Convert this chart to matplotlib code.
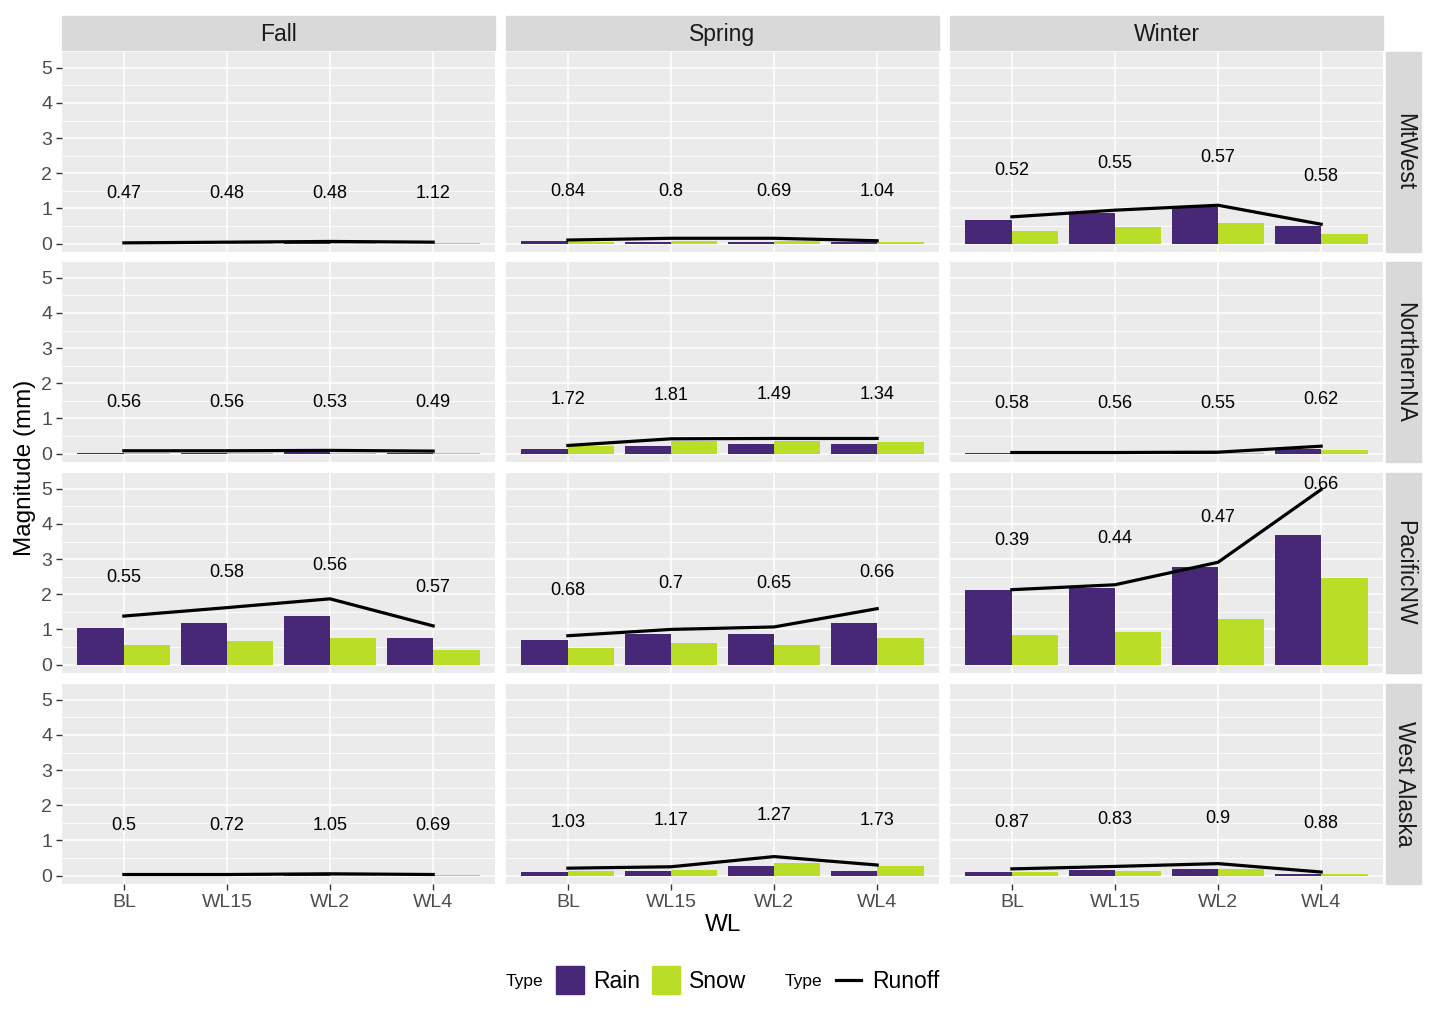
import matplotlib.pyplot as plt
from matplotlib.patches import Rectangle
from matplotlib.lines import Line2D
import numpy as np

plt.rcParams['font.family'] = ['Liberation Sans', 'DejaVu Sans']

# data
seasons = ['Fall', 'Spring', 'Winter']
regions = ['MtWest', 'NorthernNA', 'PacificNW', 'West Alaska']
wl = ['BL', 'WL15', 'WL2', 'WL4']

# rows = regions, cols = WL
rain_fall = [[0.00, 0.00, 0.01, 0.00],
             [0.02, 0.02, 0.04, 0.03],
             [1.05, 1.19, 1.39, 0.76],
             [0.00, 0.01, 0.01, 0.00]]
snow_fall = [[0.01, 0.02, 0.03, 0.03],
             [0.02, 0.02, 0.03, 0.01],
             [0.56, 0.68, 0.76, 0.42],
             [0.01, 0.01, 0.02, 0.01]]
runoff_fall = [[0.02, 0.04, 0.06, 0.04],
               [0.08, 0.08, 0.09, 0.07],
               [1.38, 1.62, 1.87, 1.10],
               [0.03, 0.03, 0.05, 0.03]]

rain_spring = [[0.06, 0.05, 0.05, 0.05],
               [0.13, 0.22, 0.26, 0.26],
               [0.70, 0.88, 0.88, 1.19],
               [0.10, 0.14, 0.28, 0.14]]
snow_spring = [[0.05, 0.08, 0.08, 0.05],
               [0.22, 0.35, 0.36, 0.33],
               [0.48, 0.60, 0.56, 0.76],
               [0.13, 0.16, 0.37, 0.26]]
runoff_spring = [[0.10, 0.15, 0.15, 0.08],
                 [0.23, 0.42, 0.43, 0.43],
                 [0.82, 1.00, 1.07, 1.59],
                 [0.21, 0.25, 0.54, 0.30]]

rain_winter = [[0.66, 0.87, 1.04, 0.50],
               [0.01, 0.00, 0.01, 0.13],
               [2.11, 2.17, 2.77, 3.70],
               [0.10, 0.16, 0.20, 0.05]]
snow_winter = [[0.35, 0.46, 0.59, 0.27],
               [0.00, 0.00, 0.02, 0.10],
               [0.83, 0.94, 1.29, 2.46],
               [0.09, 0.12, 0.19, 0.04]]
runoff_winter = [[0.76, 0.95, 1.09, 0.55],
                 [0.03, 0.03, 0.04, 0.21],
                 [2.13, 2.27, 2.91, 4.98],
                 [0.19, 0.26, 0.34, 0.10]]

labels_fall = [['0.47', '0.48', '0.48', '1.12'],
               ['0.56', '0.56', '0.53', '0.49'],
               ['0.55', '0.58', '0.56', '0.57'],
               ['0.5', '0.72', '1.05', '0.69']]
labels_spring = [['0.84', '0.8', '0.69', '1.04'],
                 ['1.72', '1.81', '1.49', '1.34'],
                 ['0.68', '0.7', '0.65', '0.66'],
                 ['1.03', '1.17', '1.27', '1.73']]
labels_winter = [['0.52', '0.55', '0.57', '0.58'],
                 ['0.58', '0.56', '0.55', '0.62'],
                 ['0.39', '0.44', '0.47', '0.66'],
                 ['0.87', '0.83', '0.9', '0.88']]

rain = [rain_fall, rain_spring, rain_winter]
snow = [snow_fall, snow_spring, snow_winter]
runoff = [runoff_fall, runoff_spring, runoff_winter]
labels = [labels_fall, labels_spring, labels_winter]

RAIN_COL = '#472877'
SNOW_COL = '#BADE28'
W, H = 1437, 1013

fig = plt.figure(figsize=(W / 100, H / 100), dpi=100)


def fx(px):
    return px / W


def fy(py):
    return 1 - py / H


col_left = [62, 506, 950]
row_top = [52, 262, 473, 684]
pw, ph = 433, 200

x = np.arange(1, 5)
bw = 0.45

for r, reg in enumerate(regions):
    for c, sea in enumerate(seasons):
        ax = fig.add_axes([fx(col_left[c]), fy(row_top[r] + ph), pw / W, ph / H])
        ax.set_facecolor('#EBEBEB')
        for s in ax.spines.values():
            s.set_visible(False)
        ax.set_xlim(0.4, 4.6)
        ax.set_ylim(-0.24, 5.45)
        ax.set_yticks(range(0, 6))
        ax.set_yticks(np.arange(0.5, 5.5, 1), minor=True)
        ax.set_xticks(x)
        ax.grid(which='major', color='white', lw=1.1)
        ax.grid(which='minor', axis='y', color='white', lw=0.55)
        ax.set_axisbelow(True)
        ax.tick_params(which='minor', length=0)
        ax.tick_params(which='major', length=4, width=1, color='#333333',
                       labelcolor='#4D4D4D', labelsize=14, pad=3)

        ax.bar(x - bw / 2, rain[c][r], width=bw, color=RAIN_COL, zorder=2)
        ax.bar(x + bw / 2, snow[c][r], width=bw, color=SNOW_COL, zorder=2)
        ax.plot(x, runoff[c][r], color='black', lw=2.3, zorder=3,
                solid_joinstyle='miter')
        for i in range(4):
            ax.annotate(labels[c][r][i], (x[i], rain[c][r][i] + 1.5),
                        xytext=(0, -2), textcoords='offset points',
                        ha='center', va='center', fontsize=13,
                        color='black', zorder=4)

        if c == 0:
            ax.set_yticklabels([str(v) for v in range(0, 6)])
        else:
            ax.tick_params(axis='y', left=False, labelleft=False)
        if r == len(regions) - 1:
            ax.set_xticklabels(wl)
        else:
            ax.tick_params(axis='x', bottom=False, labelbottom=False)

        # column strip
        if r == 0:
            fig.patches.append(Rectangle((fx(col_left[c]), fy(50)), pw / W, 34 / H,
                                         transform=fig.transFigure,
                                         color='#D9D9D9', zorder=0))
            fig.text(fx(col_left[c] + pw / 2), fy(34.5), sea, ha='center',
                     va='center', fontsize=16.5, color='#1A1A1A')
        # row strip
        if c == 2:
            fig.patches.append(Rectangle((fx(1386), fy(row_top[r] + ph)), 35 / W, ph / H,
                                         transform=fig.transFigure,
                                         color='#D9D9D9', zorder=0))
            fig.text(fx(1404.5), fy(row_top[r] + ph / 2), reg, ha='center',
                     va='center', rotation=-90, fontsize=16.5, color='#1A1A1A')

# axis titles
fig.text(fx(25), fy(468), 'Magnitude (mm)', rotation=90, ha='center',
         va='center', fontsize=17.5)
fig.text(fx(723), fy(925), 'WL', ha='center', va='center', fontsize=17.5)

# legend
ly = 981
fig.text(fx(506), fy(ly), 'Type', ha='left', va='center', fontsize=12.5)
fig.patches.append(Rectangle((fx(556), fy(994)), 28 / W, 28 / H,
                             transform=fig.transFigure, color=RAIN_COL))
fig.text(fx(593), fy(ly), 'Rain', ha='left', va='center', fontsize=16.5)
fig.patches.append(Rectangle((fx(652), fy(994)), 28 / W, 28 / H,
                             transform=fig.transFigure, color=SNOW_COL))
fig.text(fx(689), fy(ly), 'Snow', ha='left', va='center', fontsize=16.5)
fig.text(fx(785), fy(ly), 'Type', ha='left', va='center', fontsize=12.5)
fig.lines.append(Line2D([fx(836), fx(861)], [fy(980), fy(980)],
                        transform=fig.transFigure, color='black', lw=2.3))
fig.text(fx(872), fy(ly), 'Runoff', ha='left', va='center', fontsize=16.5)

fig.savefig('out.png', dpi=100, facecolor='white')
